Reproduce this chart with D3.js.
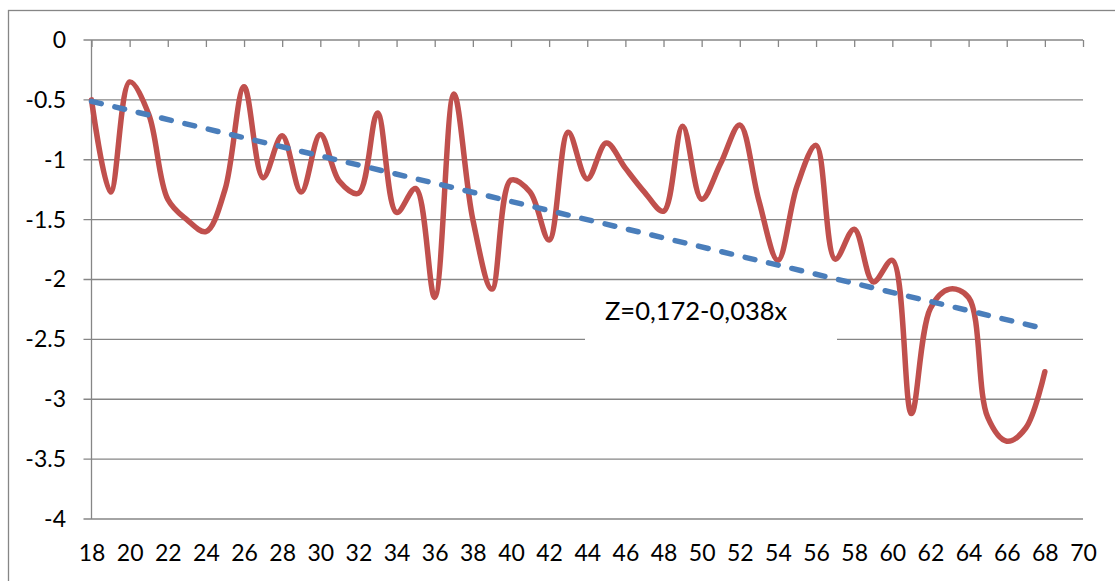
<!DOCTYPE html>
<html>
<head>
<meta charset="utf-8">
<script src="https://cdn.jsdelivr.net/npm/d3@7"></script>
<style>
  body { margin: 0; background: #fff; }
  text { font-family: Lato, "Open Sans", sans-serif; fill: #000; }
</style>
</head>
<body>
<div id="chart"></div>
<script>
// ages on the x axis, one value per year
var ages = [18, 19, 20, 21, 22, 23, 24, 25, 26, 27, 28, 29, 30, 31, 32, 33, 34,
            35, 36, 37, 38, 39, 40, 41, 42, 43, 44, 45, 46, 47, 48, 49, 50, 51,
            52, 53, 54, 55, 56, 57, 58, 59, 60, 61, 62, 63, 64, 65, 66, 67, 68];
var zValues = [-0.50, -1.27, -0.35, -0.62, -1.33, -1.50, -1.60, -1.25, -0.39, -1.15,
               -0.80, -1.27, -0.79, -1.18, -1.28, -0.61, -1.44, -1.24, -2.15, -0.45,
               -1.50, -2.08, -1.17, -1.27, -1.67, -0.77, -1.16, -0.86, -1.07, -1.27,
               -1.43, -0.72, -1.33, -1.03, -0.71, -1.34, -1.84, -1.22, -0.88, -1.83,
               -1.58, -2.02, -1.84, -3.12, -2.24, -2.08, -2.15, -3.15, -3.35, -3.24,
               -2.77];
var xTicks = [18, 20, 22, 24, 26, 28, 30, 32, 34, 36, 38, 40, 42, 44, 46, 48, 50,
              52, 54, 56, 58, 60, 62, 64, 66, 68, 70];
var yTicks = [0, -0.5, -1, -1.5, -2, -2.5, -3, -3.5, -4];
var trendIntercept = 0.172,
    trendSlope = -0.038,
    trendLabel = 'Z=0,172-0,038x';

var width = 1115,
    height = 581,
    gridColor = '#868686',
    labelFont = 'Lato, "Open Sans", sans-serif';

var svg = d3.select('#chart')
    .append('svg')
    .attr('width', width)
    .attr('height', height);

// chart frame (runs off the right and bottom of the picture)
svg.append('rect')
    .attr('x', 8.5)
    .attr('y', 10.5)
    .attr('width', width + 20)
    .attr('height', height + 20)
    .attr('fill', 'none')
    .attr('stroke', gridColor)
    .attr('stroke-width', 1.3);

var x = d3.scaleLinear().domain([18, 70]).range([91.5, 1083]);
var y = d3.scaleLinear().domain([0, -4]).range([40, 519]);

// horizontal gridlines with the little tick stubs on the left
svg.append('g')
    .selectAll('line')
    .data(yTicks)
    .enter()
    .append('line')
    .attr('x1', x(18) - 8)
    .attr('x2', x(70))
    .attr('y1', function (d) { return y(d); })
    .attr('y2', function (d) { return y(d); })
    .attr('stroke', gridColor)
    .attr('stroke-width', 1.3);

// vertical axis line
svg.append('line')
    .attr('x1', x(18)).attr('x2', x(18))
    .attr('y1', y(0)).attr('y2', y(-4))
    .attr('stroke', gridColor)
    .attr('stroke-width', 1.3);

// x ticks hang down from the zero line
var xTickAxis = d3.axisBottom(x)
    .tickValues(xTicks)
    .tickSize(7)
    .tickFormat('');
var gx = svg.append('g')
    .attr('transform', 'translate(0,' + y(0) + ')')
    .call(xTickAxis);
gx.select('.domain').remove();
gx.selectAll('.tick line').attr('stroke', gridColor).attr('stroke-width', 1.3);

// x labels sit below the plot
var xLabelAxis = d3.axisBottom(x)
    .tickValues(xTicks)
    .tickSize(0)
    .tickPadding(0)
    .tickFormat(d3.format('d'));
var gxl = svg.append('g')
    .attr('transform', 'translate(0,' + 545 + ')')
    .call(xLabelAxis);
gxl.select('.domain').remove();
gxl.selectAll('text')
    .attr('dy', '0.71em')
    .style('font-size', '23px')
    .style('font-family', labelFont)
    .attr('fill', '#000');

// y labels
var yLabelAxis = d3.axisLeft(y)
    .tickValues(yTicks)
    .tickSize(0)
    .tickPadding(0)
    .tickFormat(function (d) { return String(d); });
var gyl = svg.append('g')
    .attr('transform', 'translate(' + 66 + ',0)')
    .call(yLabelAxis);
gyl.select('.domain').remove();
gyl.selectAll('text')
    .style('font-size', '23px')
    .style('font-family', labelFont)
    .attr('fill', '#000');

// label box for the trend equation, it hides part of a gridline
svg.append('rect')
    .attr('x', 585)
    .attr('y', 292)
    .attr('width', 252)
    .attr('height', 58)
    .attr('fill', '#fff');

svg.append('text')
    .attr('x', 605)
    .attr('y', 320)
    .style('font-size', '25.5px')
    .text(trendLabel);

var points = ages.map(function (a, i) { return [a, zValues[i]]; });

var line = d3.line()
    .x(function (d) { return x(d[0]); })
    .y(function (d) { return y(d[1]); })
    .curve(d3.curveCatmullRom.alpha(0.5));

svg.append('path')
    .datum(points)
    .attr('d', line)
    .attr('fill', 'none')
    .attr('stroke', '#C0504D')
    .attr('stroke-width', 5.5)
    .attr('stroke-linejoin', 'round')
    .attr('stroke-linecap', 'round');

// linear trend from the fitted equation
var trendEnds = [ages[0], ages[ages.length - 1]];
svg.append('path')
    .datum(trendEnds.map(function (a) { return [a, trendIntercept + trendSlope * a]; }))
    .attr('d', d3.line()
        .x(function (d) { return x(d[0]); })
        .y(function (d) { return y(d[1]); }))
    .attr('fill', 'none')
    .attr('stroke', '#4A7EBB')
    .attr('stroke-width', 5.5)
    .attr('stroke-linecap', 'round')
    .attr('stroke-dasharray', '10,14');
</script>
</body>
</html>
